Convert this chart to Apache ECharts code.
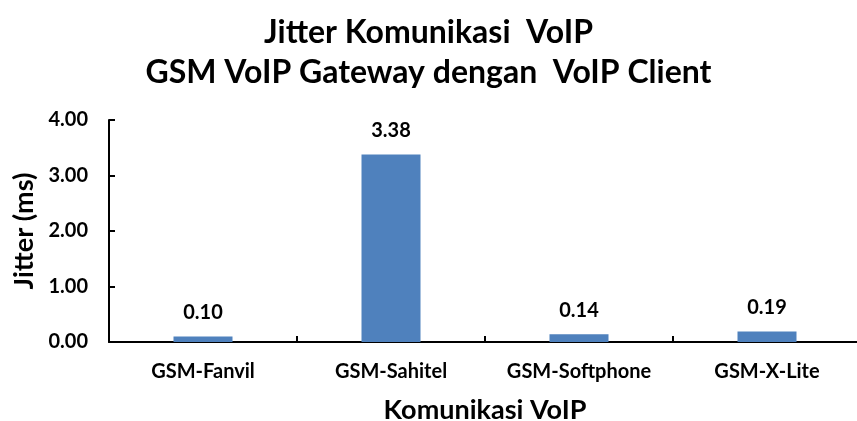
<!DOCTYPE html>
<html><head><meta charset="utf-8">
<script src="https://cdn.jsdelivr.net/npm/echarts@6/dist/echarts.min.js"></script>
<style>html,body{margin:0;padding:0;background:#fff}#c{width:857px;height:421px}</style>
</head><body><div id="c"></div>
<script>
const categories = ['GSM-Fanvil', 'GSM-Sahitel', 'GSM-Softphone', 'GSM-X-Lite'];
const jitter = [0.10, 3.38, 0.14, 0.19];
const yTicks = [0, 1, 2, 3, 4];
const F = 'Lato, "Open Sans", sans-serif';
const chart = echarts.init(document.getElementById('c'), null, {renderer: 'canvas'});
chart.setOption({
  animation: false,
  title: {
    text: 'Jitter Komunikasi  VoIP\nGSM VoIP Gateway dengan  VoIP Client',
    left: 'center', top: 8,
    textStyle: {fontFamily: F, fontWeight: 'bold', fontSize: 32, lineHeight: 40, color: '#000'}
  },
  grid: {left: 109, top: 120, width: 752, height: 222, containLabel: false, outerBoundsMode: 'none'},
  xAxis: {
    type: 'category', data: categories,
    name: 'Komunikasi VoIP', nameLocation: 'middle', nameGap: 55,
    nameTextStyle: {fontFamily: F, fontWeight: 'bold', fontSize: 27, color: '#000'},
    axisLine: {lineStyle: {color: '#000', width: 2}},
    axisTick: {show: true, inside: true, length: 6, lineStyle: {color: '#000', width: 2}},
    axisLabel: {fontFamily: F, fontWeight: 'bold', fontSize: 20, color: '#000', margin: 20}
  },
  yAxis: {
    type: 'value', min: yTicks[0], max: yTicks[yTicks.length - 1], interval: 1,
    name: 'Jitter (ms)', nameLocation: 'middle', nameGap: 70, nameRotate: 90,
    nameTextStyle: {fontFamily: F, fontWeight: 'bold', fontSize: 27, color: '#000'},
    axisLine: {show: true, lineStyle: {color: '#000', width: 2}},
    axisTick: {show: true, inside: true, length: 6, lineStyle: {color: '#000', width: 2}},
    splitLine: {show: false},
    axisLabel: {fontFamily: F, fontWeight: 'bold', fontSize: 20, color: '#000', margin: 21,
      formatter: v => v.toFixed(2)}
  },
  series: [{
    type: 'bar', data: jitter, barWidth: 59,
    itemStyle: {color: '#4F81BD'},
    label: {show: true, position: 'top', distance: 14, fontFamily: F, fontWeight: 'bold', fontSize: 20, color: '#000',
      formatter: p => p.value.toFixed(2)}
  }]
});
</script></body></html>
